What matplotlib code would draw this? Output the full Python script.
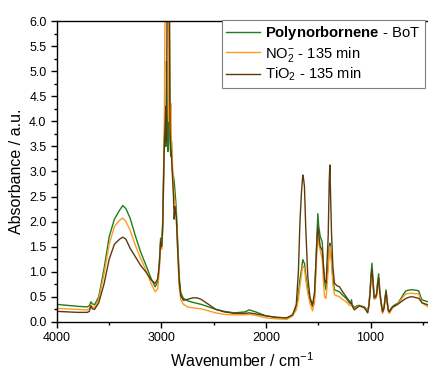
import numpy as np
import matplotlib
matplotlib.use('Agg')
import matplotlib.pyplot as plt
from matplotlib.ticker import MultipleLocator

plt.rcParams['font.family'] = ['Liberation Sans', 'DejaVu Sans']
plt.rcParams['mathtext.fontset'] = 'custom'
plt.rcParams['mathtext.rm'] = 'Liberation Sans'
plt.rcParams['mathtext.bf'] = 'Liberation Sans:bold'
plt.rcParams['mathtext.it'] = 'Liberation Sans:italic'

# wavenumber grid (cm-1) and absorbances
wavenumber = [4000, 3900, 3800, 3710, 3690, 3675, 3660, 3640, 3600, 3550, 3500, 3450,
              3400, 3370, 3340, 3300, 3250, 3200, 3150, 3100, 3060, 3035, 3020, 3008,
              2997, 2988, 2975, 2965, 2958, 2952, 2945, 2938, 2930, 2925, 2918, 2911,
              2904, 2895, 2885, 2878, 2870, 2858, 2845, 2830, 2815, 2790, 2750, 2700,
              2660, 2620, 2550, 2480, 2400, 2300, 2200, 2160, 2100, 2000, 1900, 1800,
              1745, 1710, 1690, 1675, 1660, 1648, 1640, 1632, 1620, 1600, 1580, 1555,
              1535, 1515, 1504, 1495, 1481, 1462, 1450, 1440, 1425, 1405, 1395, 1389,
              1380, 1373, 1360, 1345, 1320, 1297, 1260, 1233, 1200, 1188, 1182, 1176,
              1155, 1130, 1107, 1080, 1059, 1040, 1027, 1015, 1003, 995, 986, 978,
              965, 950, 941, 932, 922, 912, 899, 885, 870, 860, 851, 842,
              830, 820, 805, 788, 760, 740, 708, 680, 660, 620, 596, 560,
              539, 520, 507, 480, 450]

polynorbornene = [0.35, 0.33, 0.31, 0.30, 0.32, 0.40, 0.36, 0.34, 0.50, 1.05, 1.70, 2.05,
                  2.23, 2.32, 2.26, 2.07, 1.72, 1.40, 1.14, 0.87, 0.70, 0.80, 1.20, 1.67,
                  1.55, 2.00, 3.60, 4.10, 3.50, 5.20, 4.00, 3.40, 4.20, 6.50, 3.60, 3.30,
                  3.60, 3.00, 2.90, 2.80, 2.60, 2.25, 1.60, 0.90, 0.58, 0.47, 0.42, 0.39,
                  0.37, 0.35, 0.30, 0.25, 0.21, 0.18, 0.20, 0.24, 0.20, 0.12, 0.09, 0.08,
                  0.14, 0.28, 0.55, 0.85, 1.05, 1.24, 1.20, 1.17, 0.95, 0.64, 0.45, 0.31,
                  0.50, 1.60, 2.16, 1.90, 1.70, 1.60, 1.10, 0.77, 0.64, 1.17, 1.50, 1.57,
                  1.40, 1.24, 0.85, 0.64, 0.62, 0.60, 0.52, 0.47, 0.38, 0.36, 0.44, 0.34,
                  0.29, 0.32, 0.33, 0.31, 0.30, 0.26, 0.22, 0.35, 0.64, 0.95, 1.17, 0.90,
                  0.50, 0.52, 0.57, 0.80, 0.96, 0.65, 0.41, 0.21, 0.30, 0.50, 0.64, 0.45,
                  0.25, 0.21, 0.26, 0.31, 0.35, 0.37, 0.47, 0.57, 0.62, 0.64, 0.64, 0.63,
                  0.62, 0.50, 0.44, 0.42, 0.40]

no2_135 = [0.27, 0.26, 0.25, 0.24, 0.27, 0.34, 0.30, 0.28, 0.45, 0.95, 1.55, 1.90,
           2.03, 2.07, 2.00, 1.83, 1.53, 1.27, 1.04, 0.77, 0.60, 0.66, 1.05, 1.53,
           1.45, 1.80, 3.30, 6.50, 7.00, 7.00, 7.00, 6.50, 4.00, 4.30, 3.80, 4.36,
           3.50, 3.20, 2.70, 2.50, 2.40, 2.05, 1.40, 0.70, 0.44, 0.35, 0.30, 0.28,
           0.27, 0.26, 0.22, 0.18, 0.15, 0.14, 0.14, 0.15, 0.13, 0.08, 0.06, 0.05,
           0.12, 0.24, 0.45, 0.72, 0.95, 1.12, 1.10, 1.07, 0.85, 0.57, 0.38, 0.22,
           0.40, 1.30, 1.70, 1.55, 1.43, 1.25, 0.80, 0.50, 0.47, 1.04, 1.40, 1.50,
           1.30, 1.17, 0.75, 0.54, 0.52, 0.50, 0.44, 0.40, 0.33, 0.33, 0.35, 0.31,
           0.26, 0.30, 0.32, 0.30, 0.29, 0.24, 0.20, 0.32, 0.60, 0.85, 0.97, 0.80,
           0.45, 0.46, 0.52, 0.72, 0.84, 0.58, 0.36, 0.17, 0.26, 0.45, 0.57, 0.40,
           0.20, 0.17, 0.22, 0.28, 0.32, 0.36, 0.44, 0.52, 0.56, 0.57, 0.57, 0.56,
           0.56, 0.44, 0.38, 0.34, 0.30]

tio2_135 = [0.21, 0.20, 0.19, 0.19, 0.21, 0.32, 0.26, 0.25, 0.38, 0.75, 1.25, 1.55,
            1.65, 1.69, 1.65, 1.47, 1.30, 1.13, 1.00, 0.84, 0.77, 0.86, 1.15, 1.60,
            1.50, 1.90, 3.30, 3.90, 4.30, 3.60, 7.00, 7.00, 7.00, 7.00, 3.80, 3.50,
            3.30, 2.90, 2.50, 2.05, 2.30, 2.10, 1.45, 0.80, 0.52, 0.43, 0.45, 0.48,
            0.48, 0.45, 0.35, 0.25, 0.20, 0.17, 0.17, 0.18, 0.16, 0.12, 0.09, 0.08,
            0.14, 0.35, 1.00, 2.00, 2.60, 2.93, 2.85, 2.70, 1.90, 0.90, 0.50, 0.33,
            0.60, 1.50, 1.90, 1.75, 1.50, 1.43, 1.10, 0.84, 0.77, 1.70, 2.80, 3.13,
            2.40, 1.77, 1.10, 0.77, 0.72, 0.70, 0.58, 0.50, 0.40, 0.37, 0.38, 0.33,
            0.24, 0.28, 0.32, 0.30, 0.28, 0.22, 0.18, 0.32, 0.62, 0.90, 1.04, 0.85,
            0.48, 0.50, 0.55, 0.75, 0.87, 0.60, 0.38, 0.20, 0.28, 0.48, 0.60, 0.42,
            0.23, 0.20, 0.25, 0.30, 0.33, 0.35, 0.40, 0.44, 0.47, 0.50, 0.50, 0.48,
            0.47, 0.42, 0.38, 0.36, 0.34]

labels = [r'$\mathbf{Polynorbornene}$ - BoT', r'NO$_2^{-}$ - 135 min', r'TiO$_2$ - 135 min']
colors = ['#1e7d1e', '#ff9a1f', '#5e3b0e']

fig = plt.figure(figsize=(4.28, 3.70), dpi=100)
ax = fig.add_axes([0.133, 0.130, 0.867, 0.813])

for y, lab, col in zip([polynorbornene, no2_135, tio2_135], labels, colors):
    ax.plot(wavenumber, y, color=col, lw=1.0, label=lab)

ax.set_xlim(4000, 450)
ax.set_ylim(0, 6.0)
ax.xaxis.set_major_locator(MultipleLocator(1000))
ax.xaxis.set_minor_locator(MultipleLocator(500))
ax.yaxis.set_major_locator(MultipleLocator(0.5))
ax.yaxis.set_minor_locator(MultipleLocator(0.25))
ax.yaxis.set_major_formatter(matplotlib.ticker.FormatStrFormatter('%.1f'))
ax.tick_params(which='major', direction='out', length=4.5, width=1, labelsize=9, pad=3)
ax.tick_params(which='minor', direction='out', length=2.5, width=1)
ax.spines['right'].set_visible(False)
for s in ['left', 'bottom', 'top']:
    ax.spines[s].set_linewidth(1.0)

ax.set_xlabel(r'Wavenumber / cm$^{-1}$', fontsize=11.5, labelpad=5)
ax.set_ylabel('Absorbance / a.u.', fontsize=11.5, labelpad=4)

leg = ax.legend(loc='upper left', bbox_to_anchor=(222 / 428, 1 - 20 / 370),
                bbox_transform=fig.transFigure, fontsize=10.6, frameon=True,
                fancybox=False, edgecolor='#7f7f7f', framealpha=1,
                handlelength=2.3, handletextpad=0.35, labelspacing=0.15,
                borderpad=0.3, borderaxespad=0)
leg.get_frame().set_linewidth(0.8)

fig.savefig('out.png', dpi=100)
